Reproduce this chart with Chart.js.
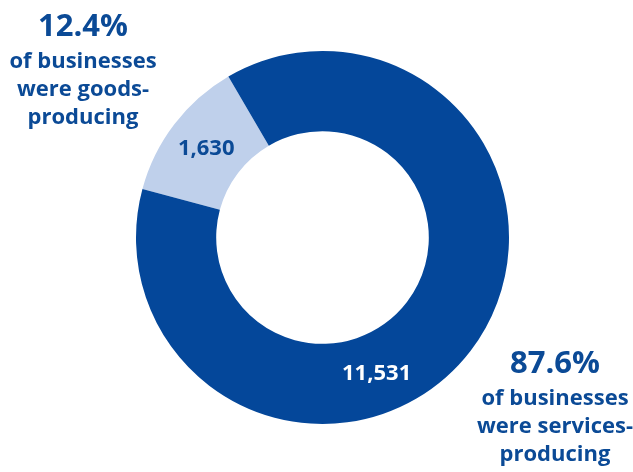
<!DOCTYPE html>
<html>
<head>
<meta charset="utf-8">
<script src="https://cdn.jsdelivr.net/npm/chart.js@4.4.1/dist/chart.umd.min.js"></script>
<style>
html,body{margin:0;padding:0;background:#fff;}
#wrap{width:633px;height:472px;position:relative;}
</style>
</head>
<body>
<div id="wrap"><canvas id="c" width="633" height="472"></canvas></div>
<script>
const categories = ["Goods-producing", "Services-producing"];
const businessCounts = [1630, 11531];
const countLabels = ["1,630", "11,531"];
const shareLabels = ["12.4%", "87.6%"];
const descLines = [
  ["of businesses", "were goods-", "producing"],
  ["of businesses", "were services-", "producing"]
];

const DARK = "#04479a";
const LIGHT = "#bfd0eb";
const TEXT = "#0b4a96";
const FONT = "'Open Sans', 'Lato', sans-serif";

const labelPlugin = {
  id: "labels",
  afterDatasetsDraw(chart) {
    const ctx = chart.ctx;
    const meta = chart.getDatasetMeta(0);
    const along = [0.5, 0.598];
    const colors = [TEXT, "#ffffff"];
    ctx.save();
    ctx.textAlign = "center";
    ctx.textBaseline = "middle";
    ctx.font = "700 22px " + FONT;
    meta.data.forEach((arc, i) => {
      const p = arc.getProps(["x","y","startAngle","endAngle","innerRadius","outerRadius"], true);
      const a = p.startAngle + (p.endAngle - p.startAngle) * along[i];
      const r = (p.innerRadius + p.outerRadius) / 2;
      ctx.fillStyle = colors[i];
      ctx.fillText(countLabels[i], p.x + Math.cos(a) * r, p.y + Math.sin(a) * r);
    });
    // side annotations
    ctx.fillStyle = TEXT;
    ctx.textBaseline = "alphabetic";
    const blocks = [
      {x: 83, y: 36},
      {x: 555, y: 373}
    ];
    blocks.forEach((b, i) => {
      ctx.font = "700 31px " + FONT;
      ctx.fillText(shareLabels[i], b.x, b.y);
      ctx.font = "700 22px " + FONT;
      descLines[i].forEach((t, j) => {
        ctx.fillText(t, b.x, b.y + 32 + j * 28);
      });
    });
    ctx.restore();
  }
};

new Chart(document.getElementById("c"), {
  type: "doughnut",
  data: {
    labels: categories,
    datasets: [{
      data: businessCounts,
      backgroundColor: [LIGHT, DARK],
      borderWidth: 0
    }]
  },
  options: {
    responsive: false,
    animation: false,
    rotation: -74.9,
    cutout: "57%",
    layout: { padding: { top: 51, bottom: 48, left: 100, right: 88 } },
    plugins: { legend: { display: false }, tooltip: { enabled: false } }
  },
  plugins: [labelPlugin]
});
</script>
</body>
</html>
